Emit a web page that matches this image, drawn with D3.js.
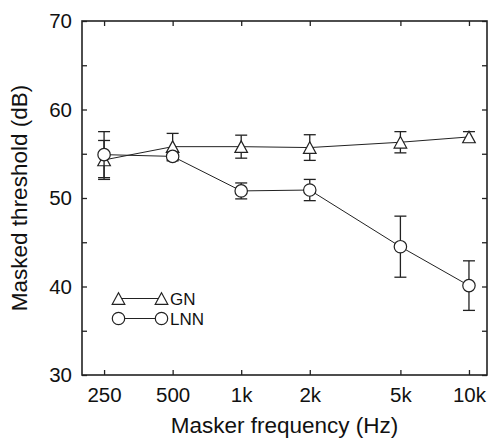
<!DOCTYPE html>
<html>
<head>
<meta charset="utf-8">
<script src="https://cdn.jsdelivr.net/npm/d3@7"></script>
<style>
  body { margin: 0; background: #fff; }
  svg { display: block; font-family: "Liberation Sans", Arial, sans-serif; }
</style>
</head>
<body>
<div id="chart"></div>
<script>
const freqs = [250, 500, 1000, 2000, 5000, 10000];
const freqLabels = ['250', '500', '1k', '2k', '5k', '10k'];
const yTicks = [30, 40, 50, 60, 70];
const yMinorTicks = [35, 45, 55, 65];

const gnMean = [54.3, 55.8, 55.8, 55.7, 56.3, 56.9];
const gnErr = [2.2, 1.5, 1.3, 1.45, 1.2, 0.6];
const lnnMean = [54.9, 54.7, 50.8, 50.9, 44.5, 40.1];
const lnnErr = [2.6, 0.5, 0.9, 1.2, 3.45, 2.8];

const margin = { top: 21, right: 3, bottom: 63, left: 82 };
const width = 490 - margin.left - margin.right;
const height = 438 - margin.top - margin.bottom;
const ink = '#222';

const x = d3.scaleLog().domain([200, 12000]).range([0, width]);
const y = d3.scaleLinear().domain([30, 70]).range([height, 0]);

const svg = d3.select('#chart').append('svg')
    .attr('width', 490)
    .attr('height', 438);

const g = svg.append('g')
    .attr('transform', `translate(${margin.left}, ${margin.top})`);

// axes, ticks pointing inward
const tickLen = 5;
const xAxisBottom = d3.axisBottom(x).tickValues(freqs).tickFormat((d, i) => freqLabels[i]).tickSize(-tickLen).tickPadding(12);
const xAxisTop = d3.axisTop(x).tickValues(freqs).tickFormat('').tickSize(-tickLen);
const yAxisLeft = d3.axisLeft(y).tickValues(yTicks.concat(yMinorTicks)).tickFormat(d => (yTicks.includes(d) ? d : '')).tickSize(-tickLen).tickPadding(10);
const yAxisRight = d3.axisRight(y).tickValues(yTicks.concat(yMinorTicks)).tickFormat('').tickSize(-tickLen);

function styleAxis(sel) {
  sel.select('.domain').attr('stroke', ink).attr('stroke-width', 1.6);
  sel.selectAll('.tick line').attr('stroke', ink).attr('stroke-width', 1.3);
  sel.selectAll('.tick text').attr('fill', '#111').attr('font-size', 20.5)
      .attr('font-family', '"Liberation Sans", Arial, sans-serif');
}

g.append('g').attr('transform', `translate(0, ${height})`).call(xAxisBottom).call(styleAxis);
g.append('g').call(xAxisTop).call(styleAxis);
g.append('g').call(yAxisLeft).call(styleAxis);
g.append('g').attr('transform', `translate(${width}, 0)`).call(yAxisRight).call(styleAxis);
g.selectAll('.domain').attr('d', null);
g.append('rect')
    .attr('width', width).attr('height', height)
    .attr('fill', 'none').attr('stroke', ink).attr('stroke-width', 1.6);

// axis titles
svg.append('text')
    .attr('x', margin.left + width / 2)
    .attr('y', 433)
    .attr('text-anchor', 'middle')
    .attr('font-size', 22.5)
    .attr('fill', '#111')
    .text('Masker frequency (Hz)');

svg.append('text')
    .attr('transform', `translate(27, ${margin.top + height / 2}) rotate(-90)`)
    .attr('text-anchor', 'middle')
    .attr('font-size', 22.5)
    .attr('fill', '#111')
    .text('Masked threshold (dB)');

const triPath = 'M0,-5.8L6.3,5.8L-6.3,5.8Z';
const capHalf = 6;

function drawSeries(means, errs, marker) {
  const pts = freqs.map((f, i) => ({ f, m: means[i], e: errs[i] }));
  const line = d3.line().x(d => x(d.f)).y(d => y(d.m));
  g.append('path').datum(pts)
      .attr('d', line).attr('fill', 'none').attr('stroke', ink).attr('stroke-width', 1);

  const eb = g.append('g').selectAll('g').data(pts).enter().append('g')
      .attr('stroke', ink).attr('stroke-width', 1.3);
  eb.append('line')
      .attr('x1', d => x(d.f)).attr('x2', d => x(d.f))
      .attr('y1', d => y(d.m - d.e)).attr('y2', d => y(d.m + d.e));
  eb.append('line')
      .attr('x1', d => x(d.f) - capHalf).attr('x2', d => x(d.f) + capHalf)
      .attr('y1', d => y(d.m + d.e)).attr('y2', d => y(d.m + d.e));
  eb.append('line')
      .attr('x1', d => x(d.f) - capHalf).attr('x2', d => x(d.f) + capHalf)
      .attr('y1', d => y(d.m - d.e)).attr('y2', d => y(d.m - d.e));

  const mk = g.append('g').selectAll('.mk').data(pts).enter();
  if (marker === 'tri') {
    mk.append('path').attr('d', triPath)
        .attr('transform', d => `translate(${x(d.f)}, ${y(d.m)})`)
        .attr('fill', '#fff').attr('stroke', ink).attr('stroke-width', 1.2);
  } else {
    mk.append('circle').attr('cx', d => x(d.f)).attr('cy', d => y(d.m)).attr('r', 6.2)
        .attr('fill', '#fff').attr('stroke', ink).attr('stroke-width', 1.2);
  }
}

drawSeries(gnMean, gnErr, 'tri');
drawSeries(lnnMean, lnnErr, 'circ');

// legend
const legend = svg.append('g');
const legendItems = [{ name: 'GN', marker: 'tri', y: 298.5 }, { name: 'LNN', marker: 'circ', y: 318.5 }];
legendItems.forEach((it) => {
  legend.append('line').attr('x1', 118.5).attr('x2', 161.5).attr('y1', it.y).attr('y2', it.y)
      .attr('stroke', ink).attr('stroke-width', 1);
  [118.5, 161.5].forEach((lx) => {
    if (it.marker === 'tri') {
      legend.append('path').attr('d', triPath).attr('transform', `translate(${lx}, ${it.y})`)
          .attr('fill', '#fff').attr('stroke', ink).attr('stroke-width', 1.2);
    } else {
      legend.append('circle').attr('cx', lx).attr('cy', it.y).attr('r', 6.2)
          .attr('fill', '#fff').attr('stroke', ink).attr('stroke-width', 1.2);
    }
  });
  legend.append('text').attr('x', 170).attr('y', it.y + 6)
      .attr('font-size', 17).attr('fill', '#111').text(it.name);
});
</script>
</body>
</html>
